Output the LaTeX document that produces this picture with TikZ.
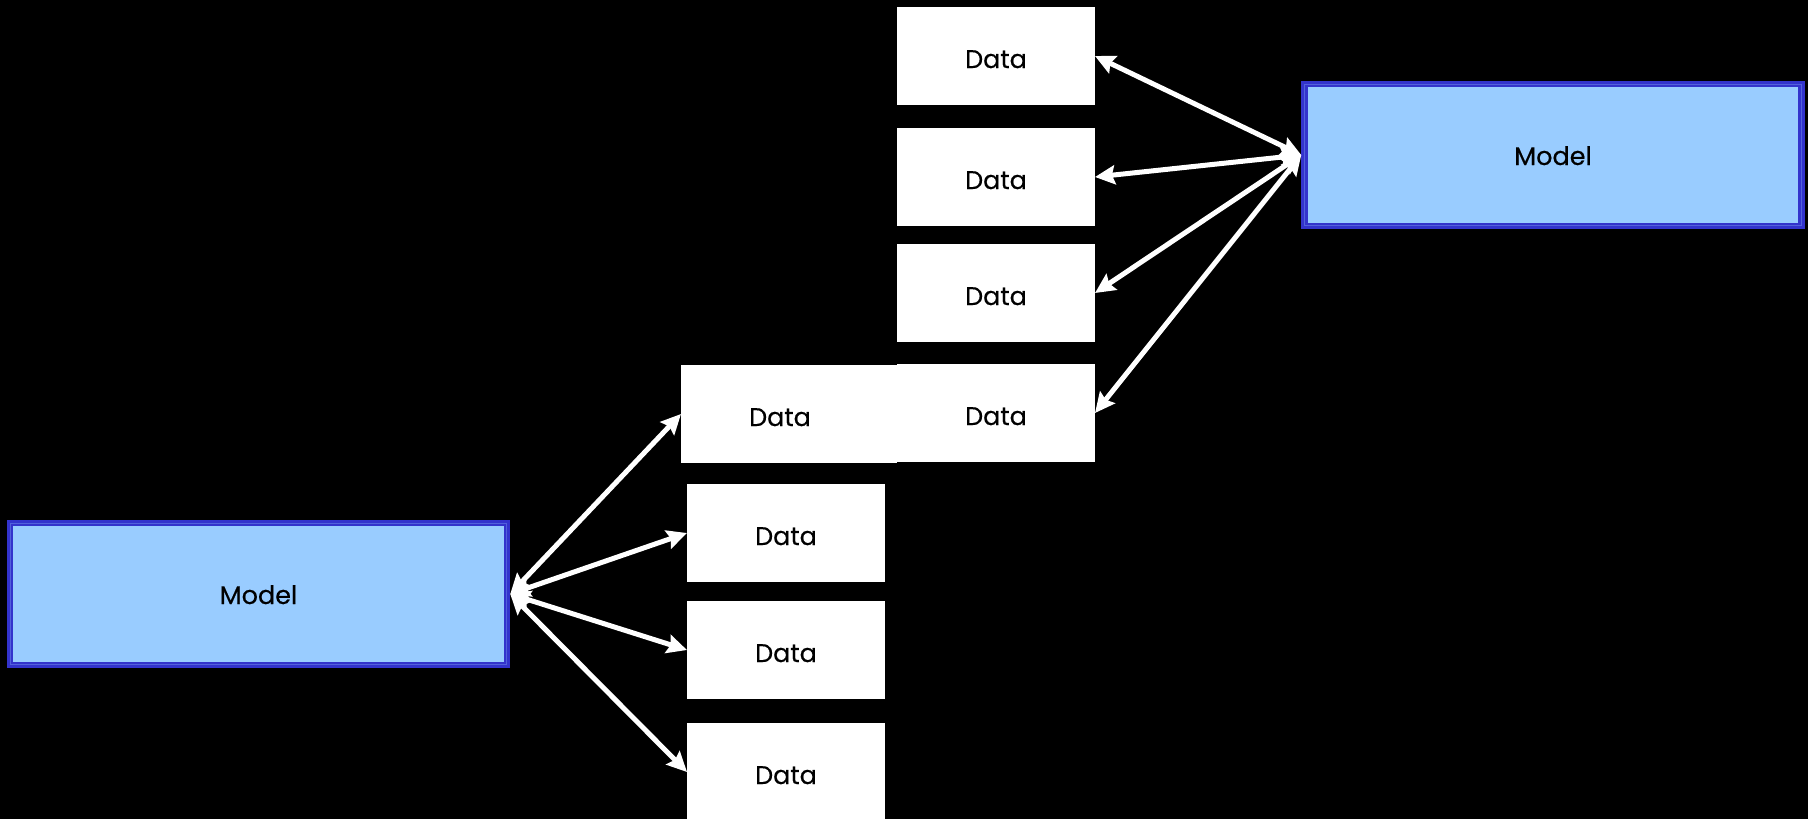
\documentclass[tikz,border=0pt]{standalone}
\usepackage{fontspec}
\setmainfont{Poppins}[FakeBold=0.5]
\usetikzlibrary{arrows.meta}
\definecolor{modelfill}{HTML}{99CCFF}
\definecolor{modelline}{HTML}{3333CC}
\tikzset{
  databox/.style={rectangle, fill=white, minimum width=198pt, minimum height=98pt,
    inner sep=0pt, outer sep=0pt, font=\fontsize{25.5}{30}\selectfont, text=black,
    text height=24pt, text depth=0pt},
  modelbox/.style={rectangle, fill=modelfill, draw=modelline, line width=6.5pt,
    minimum width=497pt, minimum height=142pt, inner sep=0pt,
    font=\fontsize{25.5}{30}\selectfont, text=black,
    text height=20pt, text depth=0pt},
  link/.style={white, line width=5pt,
    {Stealth[length=20pt,width=19pt,inset=3pt]}-{Stealth[length=20pt,width=19pt,inset=3pt]}},
}
\begin{document}
\begin{tikzpicture}[x=1pt, y=-1pt]
  \useasboundingbox (0,0) rectangle (1808,819);
  \fill[black] (0,0) rectangle (1808,819);

  % upper column of data blocks
  \node[databox] (U1) at (996,56)  {Data};
  \node[databox] (U2) at (996,177) {Data};
  \node[databox] (U3) at (996,293) {Data};
  \node[databox] (U4) at (996,413) {Data};

  % lower column of data blocks
  \node[databox] (L1) at (780,414) {Data};
  \node[databox] (L2) at (786,533) {Data};
  \node[databox] (L3) at (786,650) {Data};
  \node[databox] (L4) at (786,772) {Data};
  % white joint between the two overlapping blocks
  \fill[white] (L1.north east) rectangle ([yshift=-1pt]U4.south west);

  % the two models
  \node[modelbox] (M1) at (258.5,594) {Model};
  \node[modelbox] (M2) at (1553,155)  {Model};
  % thin lighter inner rim of the model borders
  \foreach \m in {M1,M2}
    \draw[color=modelline!70!modelfill, line width=0.8pt]
      ([shift={(3.4pt,3.4pt)}]\m.south west) rectangle ([shift={(-3.4pt,-3.4pt)}]\m.north east);

  % links
  \foreach \d in {U1,U2,U3,U4}
    \draw[link] (M2.west) -- (\d.east);
  \foreach \d in {L1,L2,L3,L4}
    \draw[link] (M1.east) -- (\d.west);
\end{tikzpicture}
\end{document}
